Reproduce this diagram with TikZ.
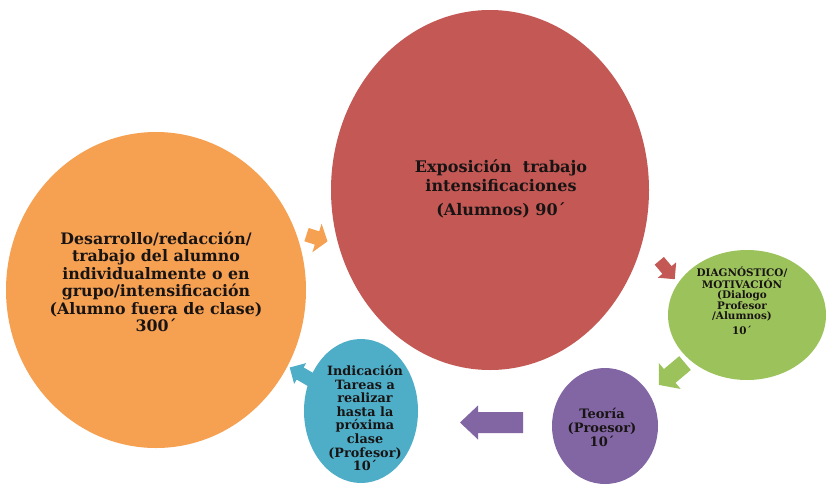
\documentclass[tikz,border=0pt]{standalone}
\usepackage{fontspec}
\setmainfont{DejaVu Serif}
\usetikzlibrary{shapes.geometric}
\definecolor{cOrange}{RGB}{246,160,82}
\definecolor{cRed}{RGB}{195,88,85}
\definecolor{cGreen}{RGB}{156,194,92}
\definecolor{cPurple}{RGB}{130,102,164}
\definecolor{cCyan}{RGB}{78,174,200}
\definecolor{cText}{RGB}{25,20,20}
\newcommand\blockarr[8]{%
 \fill[#1,shift={(#2,#3)},rotate=#4]
 ({-#5/2},{-#6}) -- ({#5/2-#8},{-#6}) -- ({#5/2-#8},{-#7}) -- ({#5/2},0) --
 ({#5/2-#8},{#7}) -- ({#5/2-#8},{#6}) -- ({-#5/2},{#6}) -- cycle;}
\tikzset{
  blob/.style={ellipse, draw=none, inner sep=0pt},
  txt/.style={align=center, text=cText, font=\bfseries, inner sep=0pt},
}
\begin{document}
\begin{tikzpicture}[x=1pt,y=-1pt]
\fill[white] (0,0) rectangle (827,485);
\useasboundingbox (0,0) rectangle (827,485);

\node[blob, fill=cOrange, minimum width=300pt, minimum height=316pt] (orange) at (156,290) {};
\node[blob, fill=cRed, minimum width=318pt, minimum height=360pt] (red) at (490,190) {};
\node[blob, fill=cGreen, minimum width=158pt, minimum height=130pt] (green) at (747,315) {};
\node[blob, fill=cPurple, minimum width=106pt, minimum height=116pt] (purple) at (605,426) {};
\node[blob, fill=cCyan, minimum width=114pt, minimum height=144pt] (cyan) at (361,411) {};

\node[txt, font=\bfseries\fontsize{15.8}{17.5}\selectfont] (torange) at (156,282)
 {Desarrollo/redacción/\\trabajo del alumno\\individualmente o en\\grupo/intensificación\\(Alumno fuera de clase)\\300´};
\node[txt, font=\bfseries\fontsize{16}{19}\selectfont] (tred) at (501,189)
 {Exposición\ \ trabajo\\intensificaciones\\[5pt](Alumnos) 90´};
\node[txt, font=\bfseries\fontsize{10.4}{10.2}\selectfont] (tgreen) at (742,301)
 {DIAGNÓSTICO/\\MOTIVACIÓN\\(Dialogo\\Profesor\\/Alumnos)\\[5pt]10´};
\node[txt, font=\bfseries\fontsize{13}{14}\selectfont] (tpurple) at (602,427)
 {Teoría\\(Proesor)\\10´};
\node[txt, font=\bfseries\fontsize{12.8}{13.6}\selectfont] (tcyan) at (365,418)
 {Indicación\\Tareas a\\realizar\\hasta la\\próxima\\clase\\(Profesor)\\10´};

% block arrows: color, cx, cy, angle, length, shaft half-width, head half-width, head length
\blockarr{cOrange}{317}{238}{-18}{22}{7}{15}{11}
\blockarr{cRed}{667}{270}{-50}{24}{6}{12}{12}
\blockarr{cGreen}{672}{374}{220}{34}{9}{17}{14}
\blockarr{cPurple}{491.5}{422.5}{180}{63}{10.5}{17}{18}
\blockarr{cCyan}{301}{374}{150}{26}{7}{12}{12}
\end{tikzpicture}
\end{document}
